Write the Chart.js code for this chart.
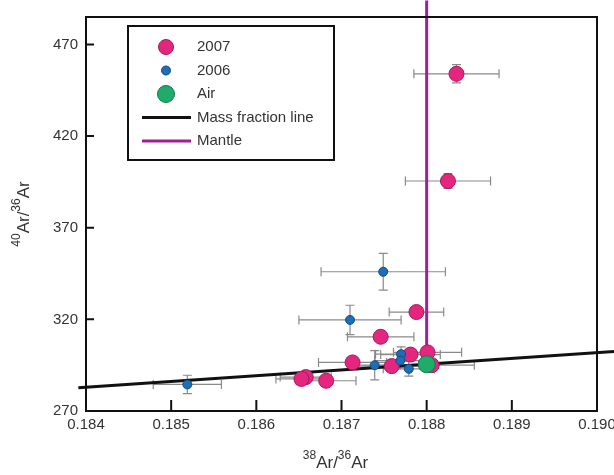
<!DOCTYPE html>
<html>
<head>
<meta charset="utf-8">
<script src="https://cdn.jsdelivr.net/npm/chart.js@4.4.0/dist/chart.umd.min.js"></script>
<style>
  html, body { margin: 0; padding: 0; background: #fff; }
  #wrap { width: 614px; height: 475px; }
</style>
</head>
<body>
<div id="wrap"><canvas id="argonChart"></canvas></div>
<script>
// =============================
// Datos
// =============================
const x2007  = [0.18835, 0.18825, 0.18788, 0.18746, 0.18801, 0.18781, 0.18713, 0.18759, 0.18806, 0.18658, 0.18653, 0.18682];
const y2007  = [454, 395.5, 324, 310.5, 302, 300.8, 296.5, 294.5, 295, 288.5, 287.5, 286.5];
const ex2007 = [0.0005, 0.0005, 0.00032, 0.00039, 0.0004, 0.00035, 0.0004, 0.0004, 0.0005, 0.0003, 0.0003, 0.00035];
const ey2007 = [5, 4, 3, 2, 2, 2, 2, 2, 2, 2, 2, 2];

const x2006  = [0.18749, 0.1871, 0.18519, 0.18739, 0.1877, 0.18769, 0.18779];
const y2006  = [346, 319.7, 284.5, 295, 301, 297.5, 293];
const ex2006 = [0.00073, 0.0006, 0.0004, 0.0003, 0.0003, 0.0003, 0.0003];
const ey2006 = [10, 8, 5, 8, 4, 4, 4];

const xAir = [0.188];
const yAir = [295.5];

const xMass = [0.18391, 0.1902];
const yMass = [282.7, 302.5];

const xMantle = [0.188, 0.188];
const yMantle = [300, 494];

const xTicks = [0.184, 0.185, 0.186, 0.187, 0.188, 0.189, 0.190];
const yTicks = [270, 320, 370, 420, 470];

const FONT = '"Liberation Sans", Arial, Helvetica, sans-serif';

function pts(xs, ys) { return xs.map((x, i) => ({ x: x, y: ys[i] })); }

// =============================
// Plugins: barras de error, marco, ticks internos, títulos, leyenda
// =============================
const errorBars = {
  id: 'errorBars',
  beforeDatasetsDraw(chart) {
    const { ctx, scales: { x, y } } = chart;
    const sets = [[x2007, y2007, ex2007, ey2007], [x2006, y2006, ex2006, ey2006]];
    const cap = 4.5;
    ctx.save();
    ctx.strokeStyle = '#8a8a8a';
    ctx.lineWidth = 1.2;
    sets.forEach(([xs, ys, exs, eys]) => {
      xs.forEach((xv, i) => {
        const px = x.getPixelForValue(xv), py = y.getPixelForValue(ys[i]);
        const x1 = x.getPixelForValue(xv - exs[i]), x2 = x.getPixelForValue(xv + exs[i]);
        const y1 = y.getPixelForValue(ys[i] - eys[i]), y2 = y.getPixelForValue(ys[i] + eys[i]);
        ctx.beginPath();
        ctx.moveTo(x1, py); ctx.lineTo(x2, py);
        ctx.moveTo(x1, py - cap); ctx.lineTo(x1, py + cap);
        ctx.moveTo(x2, py - cap); ctx.lineTo(x2, py + cap);
        ctx.moveTo(px, y1); ctx.lineTo(px, y2);
        ctx.moveTo(px - cap, y1); ctx.lineTo(px + cap, y1);
        ctx.moveTo(px - cap, y2); ctx.lineTo(px + cap, y2);
        ctx.stroke();
      });
    });
    ctx.restore();
  }
};

const frameAndTicks = {
  id: 'frameAndTicks',
  afterDraw(chart) {
    const { ctx, chartArea: a, scales: { x, y } } = chart;
    ctx.save();
    ctx.strokeStyle = '#111';
    ctx.lineWidth = 2;
    ctx.strokeRect(a.left, a.top, a.right - a.left, a.bottom - a.top);
    ctx.beginPath();
    xTicks.slice(1, -1).forEach(v => {
      const px = x.getPixelForValue(v);
      ctx.moveTo(px, a.bottom); ctx.lineTo(px, a.bottom - 11);
    });
    yTicks.slice(1).forEach(v => {
      const py = y.getPixelForValue(v);
      ctx.moveTo(a.left, py); ctx.lineTo(a.left + 8, py);
    });
    ctx.stroke();

    // títulos de ejes con superíndices
    function supText(parts, cx, cy) {
      let w = 0;
      parts.forEach(p => { ctx.font = (p.sup ? '12px ' : '17px ') + FONT; w += ctx.measureText(p.t).width; });
      let cur = cx - w / 2;
      parts.forEach(p => {
        ctx.font = (p.sup ? '12px ' : '17px ') + FONT;
        ctx.fillText(p.t, cur, p.sup ? cy - 7 : cy);
        cur += ctx.measureText(p.t).width;
      });
    }
    const label = [{ t: '38', sup: true }, { t: 'Ar/', sup: false }, { t: '36', sup: true }, { t: 'Ar', sup: false }];
    const labelY = [{ t: '40', sup: true }, { t: 'Ar/', sup: false }, { t: '36', sup: true }, { t: 'Ar', sup: false }];
    ctx.fillStyle = '#333';
    ctx.textBaseline = 'middle';
    ctx.textAlign = 'left';
    supText(label, (a.left + a.right) / 2 - 6, 463);
    ctx.save();
    ctx.translate(24, (a.top + a.bottom) / 2);
    ctx.rotate(-Math.PI / 2);
    supText(labelY, 0, 0);
    ctx.restore();

    // leyenda
    const lx = a.left + 42, ly = a.top + 9, lw = 206, lh = 134;
    ctx.fillStyle = '#fff';
    ctx.fillRect(lx, ly, lw, lh);
    ctx.strokeStyle = '#111';
    ctx.lineWidth = 2;
    ctx.strokeRect(lx, ly, lw, lh);
    ctx.font = '15px ' + FONT;
    ctx.textBaseline = 'middle';
    chart.data.datasets.forEach((ds, i) => {
      const rowY = ly + 21 + i * 23.5;
      if (ds.showLine) {
        ctx.strokeStyle = ds.borderColor;
        ctx.lineWidth = 3;
        ctx.beginPath();
        ctx.moveTo(lx + 14, rowY); ctx.lineTo(lx + 63, rowY);
        ctx.stroke();
      } else {
        ctx.beginPath();
        ctx.arc(lx + 38, rowY, ds.pointRadius, 0, Math.PI * 2);
        ctx.fillStyle = ds.backgroundColor;
        ctx.fill();
        ctx.lineWidth = 1;
        ctx.strokeStyle = ds.borderColor;
        ctx.stroke();
      }
      ctx.fillStyle = '#333';
      ctx.fillText(ds.label, lx + 69, rowY);
    });
    ctx.restore();
  }
};

// =============================
// Gráfico
// =============================
const ctx = document.getElementById('argonChart');
new Chart(ctx, {
  type: 'scatter',
  data: {
    datasets: [
      { label: '2007', data: pts(x2007, y2007), backgroundColor: '#e5267f', borderColor: '#a8185c', borderWidth: 1, pointRadius: 7.5, order: 1 },
      { label: '2006', data: pts(x2006, y2006), backgroundColor: '#1d6db7', borderColor: '#0f4b84', borderWidth: 1, pointRadius: 4.5, order: 0 },
      { label: 'Air', data: pts(xAir, yAir), backgroundColor: '#1fab69', borderColor: '#137a48', borderWidth: 1, pointRadius: 8.5, order: 0 },
      { label: 'Mass fraction line', data: pts(xMass, yMass), showLine: true, borderColor: '#111', borderWidth: 3, pointRadius: 0, clip: false, order: 5 },
      { label: 'Mantle', data: pts(xMantle, yMantle), showLine: true, borderColor: '#9b2196', borderWidth: 3, pointRadius: 0, clip: false, order: 5 }
    ]
  },
  options: {
    responsive: true,
    maintainAspectRatio: false,
    animation: false,
    layout: { padding: { left: 0, top: 14, right: 17, bottom: 0 } },
    plugins: { legend: { display: false }, tooltip: { enabled: false } },
    scales: {
      x: {
        type: 'linear', min: 0.184, max: 0.190,
        afterBuildTicks: s => { s.ticks = xTicks.map(v => ({ value: v })); },
        afterFit: s => { s.paddingLeft = 0; s.paddingRight = 0; s.height = 64; },
        grid: { display: false, drawTicks: false },
        border: { display: false },
        ticks: { padding: 5, color: '#333', font: { family: FONT, size: 15 }, callback: v => v.toFixed(3), maxRotation: 0 }
      },
      y: {
        type: 'linear', min: 270, max: 485,
        afterBuildTicks: s => { s.ticks = yTicks.map(v => ({ value: v })); },
        afterFit: s => { s.width = 86; },
        grid: { display: false, drawTicks: false },
        border: { display: false },
        ticks: { padding: 8, color: '#333', font: { family: FONT, size: 15 } }
      }
    }
  },
  plugins: [errorBars, frameAndTicks]
});
</script>
</body>
</html>
